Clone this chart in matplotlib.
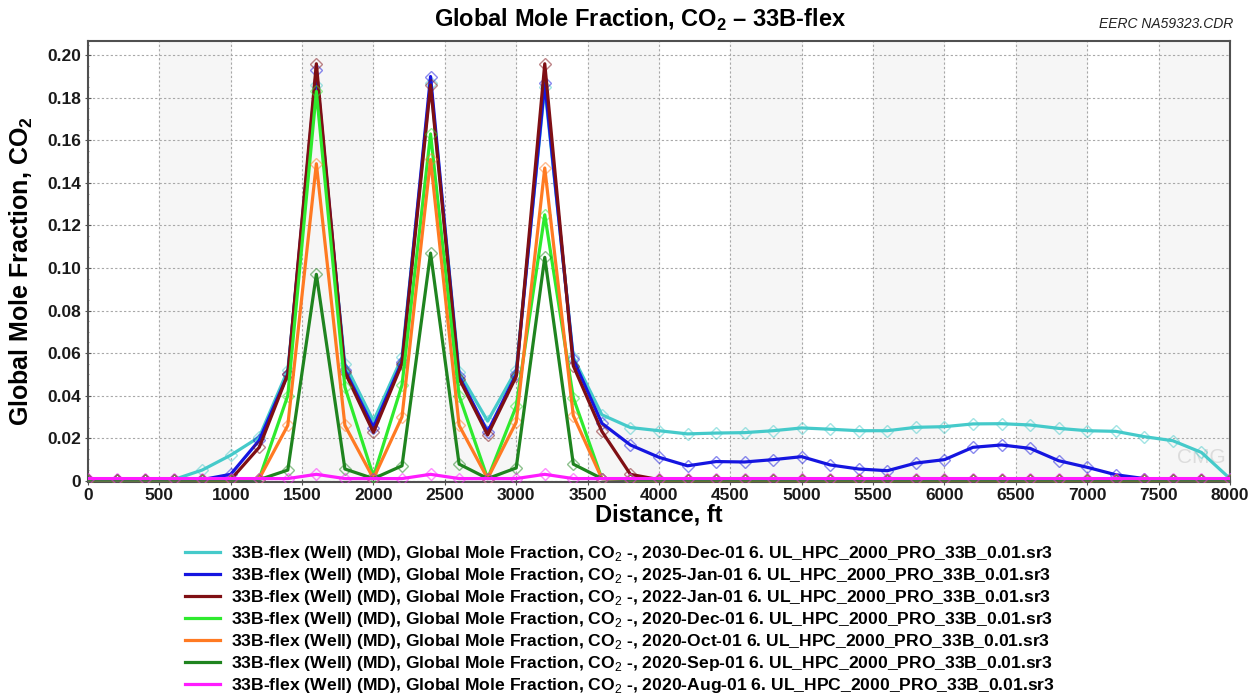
import matplotlib
matplotlib.use("Agg")
import matplotlib.pyplot as plt
from matplotlib.lines import Line2D
from matplotlib.colors import to_rgba
import numpy as np

plt.rcParams["font.family"] = ["Liberation Sans", "DejaVu Sans"]
plt.rcParams["mathtext.fontset"] = "custom"
plt.rcParams["mathtext.rm"] = "Liberation Sans"
plt.rcParams["mathtext.bf"] = "Liberation Sans:bold"

distance = list(range(0, 8001, 200))

co2_2030_dec = [0.0005, 0.0005, 0.0005, 0.0005, 0.005, 0.012, 0.0205, 0.052, 0.186, 0.055,
                0.028, 0.058, 0.187, 0.051, 0.028, 0.052, 0.185, 0.058, 0.031, 0.025,
                0.0235, 0.022, 0.0224, 0.0226, 0.0235, 0.0248, 0.0242, 0.0235, 0.0235, 0.0251,
                0.0254, 0.0267, 0.0268, 0.0262, 0.0246, 0.0235, 0.0232, 0.0207, 0.0188, 0.0133,
                0.001]
co2_2025_jan = [0.0005, 0.0005, 0.0005, 0.0005, 0.0005, 0.003, 0.019, 0.050, 0.193, 0.052,
                0.025, 0.056, 0.190, 0.049, 0.023, 0.050, 0.187, 0.057, 0.027, 0.0168,
                0.011, 0.007, 0.009, 0.0088, 0.0099, 0.0113, 0.0074, 0.0055, 0.0047, 0.0083,
                0.0099, 0.0157, 0.0168, 0.0152, 0.0094, 0.0063, 0.0028, 0.001, 0.0005, 0.0005,
                0.0005]
co2_2022_jan = [0.0005, 0.0005, 0.0005, 0.0005, 0.0005, 0.0005, 0.0157, 0.050, 0.196, 0.051,
                0.0227, 0.055, 0.186, 0.048, 0.0215, 0.049, 0.196, 0.054, 0.0232, 0.003,
                0.0005, 0.0005, 0.0005, 0.0005, 0.0005, 0.0005, 0.0005, 0.0005, 0.0005, 0.0005,
                0.0005, 0.0005, 0.0005, 0.0005, 0.0005, 0.0005, 0.0005, 0.0005, 0.0005, 0.0005,
                0.0005]
co2_2020_dec = [0.0005, 0.0005, 0.0005, 0.0005, 0.0005, 0.0005, 0.001, 0.040, 0.183, 0.044,
                0.002, 0.045, 0.163, 0.040, 0.001, 0.035, 0.125, 0.039, 0.001, 0.0005,
                0.0005, 0.0005, 0.0005, 0.0005, 0.0005, 0.0005, 0.0005, 0.0005, 0.0005, 0.0005,
                0.0005, 0.0005, 0.0005, 0.0005, 0.0005, 0.0005, 0.0005, 0.0005, 0.0005, 0.0005,
                0.0005]
co2_2020_oct = [0.0005, 0.0005, 0.0005, 0.0005, 0.0005, 0.0005, 0.001, 0.026, 0.149, 0.026,
                0.001, 0.030, 0.151, 0.026, 0.001, 0.0275, 0.147, 0.0306, 0.001, 0.0005,
                0.0005, 0.0005, 0.0005, 0.0005, 0.0005, 0.0005, 0.0005, 0.0005, 0.0005, 0.0005,
                0.0005, 0.0005, 0.0005, 0.0005, 0.0005, 0.0005, 0.0005, 0.0005, 0.0005, 0.0005,
                0.0005]
co2_2020_sep = [0.0005, 0.0005, 0.0005, 0.0005, 0.0005, 0.0005, 0.0005, 0.005, 0.097, 0.0055,
                0.001, 0.007, 0.107, 0.0078, 0.001, 0.006, 0.105, 0.0078, 0.001, 0.0005,
                0.0005, 0.0005, 0.0005, 0.0005, 0.0005, 0.0005, 0.0005, 0.0005, 0.0005, 0.0005,
                0.0005, 0.0005, 0.0005, 0.0005, 0.0005, 0.0005, 0.0005, 0.0005, 0.0005, 0.0005,
                0.0005]
co2_2020_aug = [0.001, 0.001, 0.001, 0.001, 0.001, 0.001, 0.001, 0.001, 0.003, 0.001,
                0.001, 0.001, 0.003, 0.001, 0.001, 0.001, 0.003, 0.001, 0.001, 0.001,
                0.001, 0.001, 0.001, 0.001, 0.001, 0.001, 0.001, 0.001, 0.001, 0.001,
                0.001, 0.001, 0.001, 0.001, 0.001, 0.001, 0.001, 0.001, 0.001, 0.001,
                0.001]

dates = ["2030-Dec-01", "2025-Jan-01", "2022-Jan-01", "2020-Dec-01",
         "2020-Oct-01", "2020-Sep-01", "2020-Aug-01"]
series = [co2_2030_dec, co2_2025_jan, co2_2022_jan, co2_2020_dec,
          co2_2020_oct, co2_2020_sep, co2_2020_aug]
colors = ["#45CACA", "#1515E0", "#7F0F14", "#2EEA2E", "#FF7A22", "#1F841F", "#FF1CFF"]

fig = plt.figure(figsize=(12.53, 6.96), dpi=100)
ax = fig.add_axes([0.0702, 0.3075, 0.9114, 0.6336])

# alternating shaded bands
for start in range(500, 8000, 1000):
    ax.axvspan(start, start + 500, color="#f6f6f6", zorder=0)

for vals, col in zip(series, colors):
    ax.plot(distance, vals, color=col, lw=2.3, marker="D", markersize=6,
            markerfacecolor="none", markeredgecolor=to_rgba(col, 0.5),
            markeredgewidth=1.0, zorder=3)

ax.set_xlim(0, 8000)
ax.set_ylim(-0.0006, 0.2067)
ax.set_xticks(np.arange(0, 8001, 500))
ax.set_yticks(np.arange(0, 0.201, 0.02))
ax.set_yticks(np.arange(0, 0.206, 0.005), minor=True)
ax.set_yticklabels([f"{v:.2f}" if v > 0 else "0" for v in np.arange(0, 0.201, 0.02)])
ax.grid(True, which="major", color="#a8a8a8", linestyle=(0, (2, 2)), lw=0.8, zorder=1)
ax.set_axisbelow(True)
ax.tick_params(axis="both", which="major", labelsize=12.5, length=4, direction="inout",
               color="#555555", labelcolor="#1a1a1a")
ax.tick_params(axis="y", which="minor", length=2, direction="inout", color="#777777")
ax.tick_params(axis="x", which="major", pad=2)
ax.tick_params(axis="y", which="major", pad=3)
for lab in ax.get_xticklabels() + ax.get_yticklabels():
    lab.set_fontweight("bold")
for sp in ax.spines.values():
    sp.set_color("#505050")
    sp.set_linewidth(1.5)

ax.set_xlabel("Distance, ft", fontsize=17, fontweight="bold", labelpad=1)
ax.set_ylabel("Global Mole Fraction, CO$_\\mathbf{2}$", fontsize=18, fontweight="bold")
ax.yaxis.set_label_coords(-0.046, 0.478)

ax.text(0.975, 0.055, "CMG", transform=ax.transAxes, fontsize=15, color="#dcdcdc",
        ha="center", va="center", zorder=2)

fig.text(0.511, 0.972, "Global Mole Fraction, CO$_\\mathbf{2}$ \u2013 33B-flex",
         fontsize=17, fontweight="bold", ha="center", va="center")
fig.text(0.984, 0.966, "EERC NA59323.CDR", fontsize=10, style="italic",
         ha="right", va="center", color="#222222")

handles = [Line2D([0], [0], color=c, lw=2.3) for c in colors]
labels = [f"33B-flex (Well) (MD), Global Mole Fraction, CO$_2$ -, {d} 6. UL_HPC_2000_PRO_33B_0.01.sr3"
          for d in dates]
fig.legend(handles, labels, loc="upper left", bbox_to_anchor=(0.141, 0.231),
           frameon=False, borderpad=0, handlelength=2.0, handletextpad=0.6,
           labelspacing=0.17, prop={"size": 12.6, "weight": "bold"})

fig.savefig("out.png", dpi=100)
